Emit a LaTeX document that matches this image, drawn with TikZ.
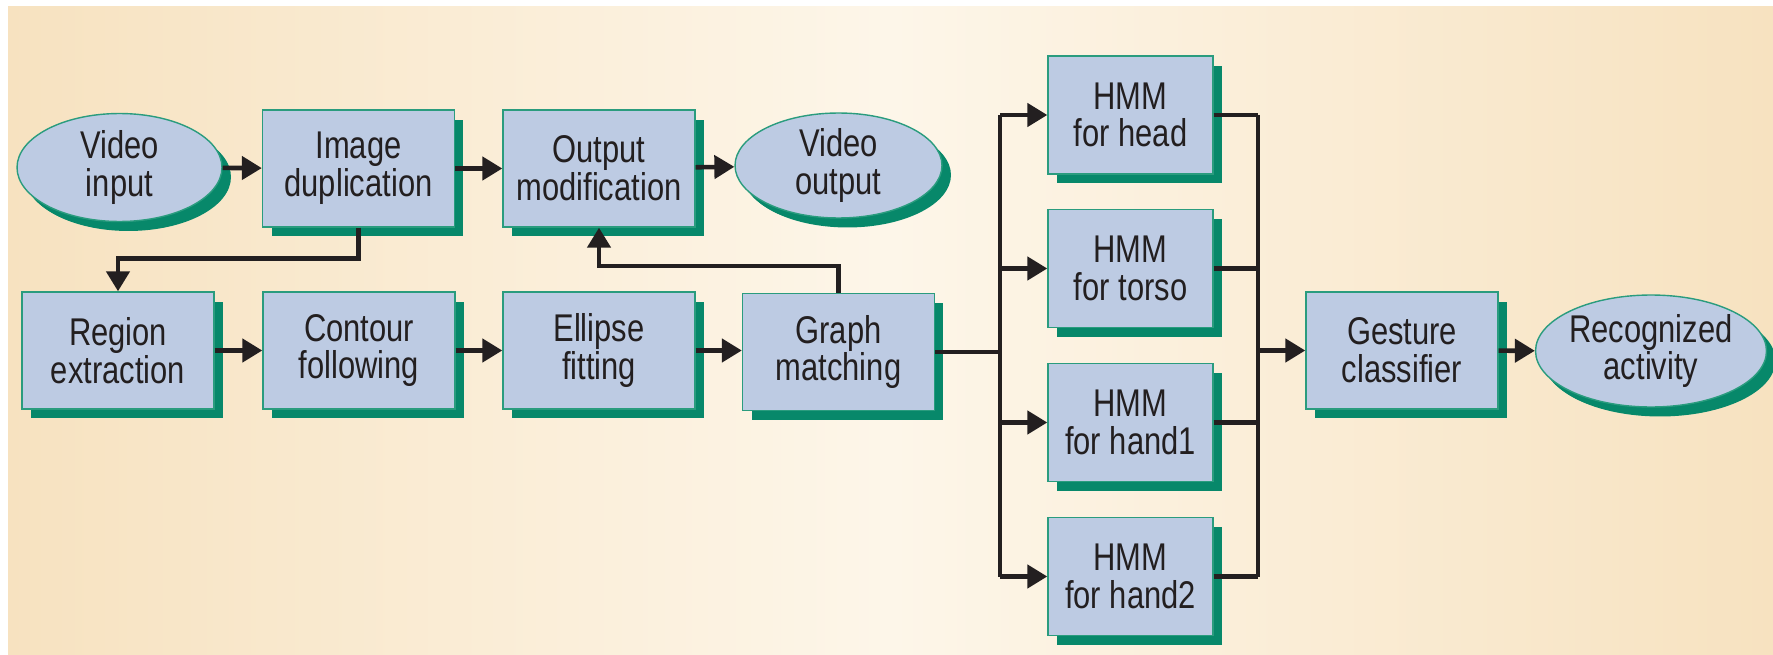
\documentclass[tikz,border=0pt]{standalone}
\usepackage{fontspec}
\setmainfont{Liberation Sans}[FakeStretch=0.8]
\usepackage{tikz}
\usetikzlibrary{shapes.geometric,shadows,arrows.meta}
\definecolor{boxblue}{HTML}{BDCBE3}
\definecolor{boxline}{HTML}{2A9C7E}
\definecolor{shadowgreen}{HTML}{07886A}
\definecolor{inkdark}{HTML}{231F20}
\definecolor{bgedge}{HTML}{F7E2C0}
\definecolor{bgmid}{HTML}{FDF6E9}

\begin{document}
\begin{tikzpicture}[x=0.02cm,y=-0.02cm,
    block/.style={shape=rectangle, draw=boxline, line width=0.8pt, fill=boxblue,
        minimum width=3.84cm, minimum height=2.34cm, inner sep=0pt, align=center,
        text=inkdark, font=\fontsize{22}{21.5}\selectfont,
        drop shadow={shadow xshift=0.18cm, shadow yshift=-0.19cm, fill=shadowgreen, opacity=1}},
    hmm/.style={block, minimum width=3.3cm, minimum height=2.36cm},
    terminal/.style={block, shape=ellipse, minimum width=4.1cm, minimum height=2.16cm,
        drop shadow={shadow xshift=0.15cm, shadow yshift=-0.17cm, fill=shadowgreen, opacity=1}},
    flow/.style={draw=inkdark, line width=2.6pt, -{Triangle[length=0.4cm, width=0.46cm]}},
    wire/.style={draw=inkdark, line width=2.6pt}]
\useasboundingbox (0,0) rectangle (1773,655);
\shade[left color=bgedge, right color=bgedge, middle color=bgmid] (8,7) rectangle (1773,655);

\node[terminal] (vin) at (119.5,167.5) {Video\\input};
\node[block] (imgdup) at (358.5,168.5) {Image\\duplication};
\node[block] (outmod) at (599,168.5) {Output\\modification};
\node[terminal, minimum width=4.14cm, minimum height=2.1cm] (vout) at (838.5,165.5) {Video\\output};

\node[block] (region) at (118,350.5) {Region\\extraction};
\node[block] (contour) at (359,350.5) {Contour\\following};
\node[block] (ellfit) at (599,350.5) {Ellipse\\fitting};
\node[block] (graph) at (838.5,352) {Graph\\matching};

\node[hmm] (head) at (1130.5,115) {HMM\\for head};
\node[hmm] (torso) at (1130.5,268.5) {HMM\\for torso};
\node[hmm] (handa) at (1130.5,422.5) {HMM\\for hand1};
\node[hmm] (handb) at (1130.5,576.5) {HMM\\for hand2};

\node[block] (gesture) at (1402,350.5) {Gesture\\classifier};
\node[terminal, minimum width=4.08cm, minimum height=2.24cm] (recog) at (1651,351) {Recognized\\activity};

\coordinate (split) at (1000,352);
\coordinate (merge) at (1258,350.5);

\path[flow] (vin) -- (imgdup);
\path[flow] (imgdup) -- (outmod);
\path[flow] (outmod) -- (vout);
\path[flow] (region) -- (contour);
\path[flow] (contour) -- (ellfit);
\path[flow] (ellfit) -- (graph.west |- ellfit);
\path[flow] (imgdup.south) -- ++(0,31) -| (region.north);
\path[flow] (graph.north) -- ++(0,-27) -| (outmod.south);

\path[wire] (graph) -- (split);
\path[wire] (split |- head) -- (split |- handb);
\foreach \h in {head,torso,handa,handb}
    \path[flow] (split |- \h) -- (\h);

\foreach \h in {head,torso,handa,handb}
    \path[wire] (\h) -- (merge |- \h);
\path[wire] (merge |- head) -- (merge |- handb);
\path[flow] (merge) -- (gesture);
\path[flow] (gesture) -- (recog);
\end{tikzpicture}
\end{document}
